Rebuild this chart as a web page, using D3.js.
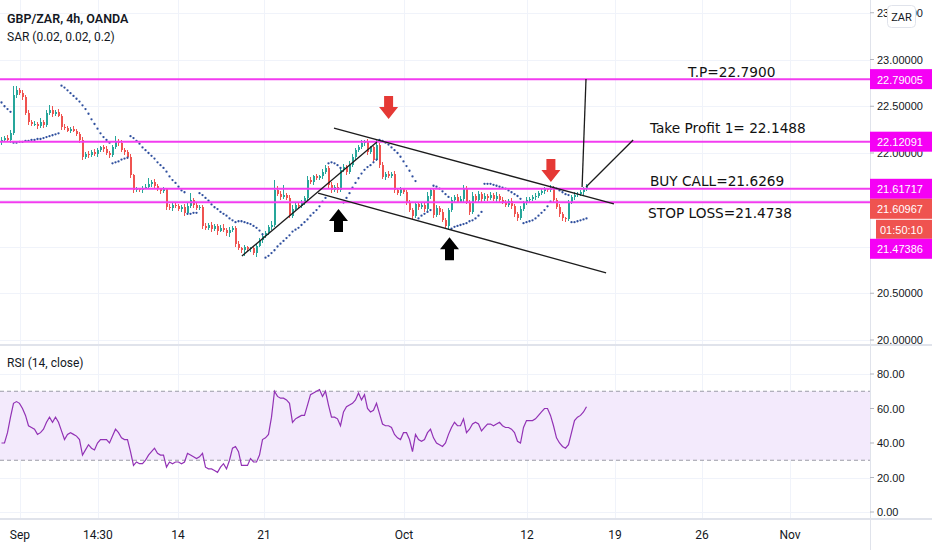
<!DOCTYPE html>
<html>
<head>
<meta charset="utf-8">
<script src="https://cdn.jsdelivr.net/npm/d3@7"></script>
<style>
  body { margin: 0; background: #fff; }
  svg { display: block; }
</style>
</head>
<body>
<svg id="chart" width="932" height="550"></svg>
<script>
(function() {

  // GBP/ZAR 4h closes (open = previous close)
  const firstOpen = 22.12;
  const closes = [
    22.14,22.16,22.14,22.21,22.62,22.67,22.64,22.60,22.43,22.33,
    22.31,22.31,22.29,22.33,22.30,22.43,22.46,22.42,22.44,22.40,
    22.28,22.27,22.24,22.26,22.24,22.20,22.14,21.96,21.99,21.98,
    22.01,21.99,22.03,22.06,22.04,22.00,21.98,22.06,22.13,22.11,
    22.03,22.01,21.96,21.76,21.60,21.61,21.60,21.63,21.64,21.67,
    21.69,21.65,21.61,21.59,21.61,21.42,21.41,21.44,21.43,21.40,
    21.42,21.36,21.43,21.50,21.44,21.41,21.42,21.22,21.20,21.23,
    21.19,21.22,21.17,21.20,21.18,21.14,21.18,21.20,21.03,20.98,
    20.96,20.99,20.97,20.98,20.93,21.01,21.07,21.11,21.14,21.21,
    21.23,21.60,21.56,21.53,21.55,21.52,21.33,21.40,21.44,21.43,
    21.47,21.52,21.71,21.69,21.75,21.73,21.75,21.80,21.84,21.66,
    21.60,21.64,21.60,21.82,21.85,21.80,21.87,21.96,22.03,22.06,
    22.11,22.12,22.01,22.06,21.93,22.09,21.87,21.74,21.78,21.75,
    21.78,21.60,21.57,21.61,21.58,21.47,21.39,21.33,21.45,21.42,
    21.44,21.40,21.54,21.60,21.34,21.41,21.37,21.28,21.22,21.39,
    21.50,21.53,21.48,21.51,21.63,21.47,21.37,21.54,21.50,21.56,
    21.51,21.54,21.52,21.55,21.51,21.54,21.50,21.48,21.44,21.49,
    21.43,21.35,21.30,21.40,21.47,21.50,21.51,21.53,21.54,21.57,
    21.59,21.61,21.60,21.63,21.50,21.42,21.35,21.30,21.29,21.47,
    21.53,21.55,21.56,21.58,21.61,21.65
  ];
  // wick lengths in hundredths above the body / below the body
  const wickHi = [
    3,2,3,4,10,5,2,3,2,3, 2,3,2,4,2,3,5,4,2,3, 2,3,2,2,3,2,2,3,2,3,
    2,3,2,2,3,4,2,3,5,2, 3,2,2,3,2,3,2,2,3,6, 2,3,2,2,3,2,3,2,3,2,
    2,3,4,7,2,3,2,2,3,2, 3,2,2,3,4,2,3,2,2,3, 2,3,2,2,3,2,2,3,3,2,
    4,11,5,3,11,2,3,4,2,3, 3,2,4,3,2,3,2,3,3,2, 3,2,4,2,3,2,4,3,2,3,
    3,2,3,2,2,5,2,3,2,3, 2,3,2,3,2,2,3,2,3,2, 3,2,4,3,2,3,2,3,2,2,
    3,2,3,3,3,2,3,4,2,3, 2,3,2,3,2,4,2,3,2,2, 3,2,2,3,2,3,2,2,3,2,
    2,3,2,3,2,2,3,2,2,3, 2,3,2,2,3,2
  ];
  const wickLo = [
    3,2,2,3,2,3,2,3,2,3, 2,2,3,2,3,2,2,3,2,2, 3,2,2,3,2,2,3,3,2,3,
    2,2,3,2,3,2,3,2,2,3, 2,3,2,3,3,2,2,3,2,2, 3,2,2,3,2,3,2,3,2,2,
    3,3,2,2,3,2,2,3,2,2, 3,2,5,2,2,3,4,2,3,2, 3,6,2,3,2,4,2,3,2,2,
    3,2,2,3,2,2,3,3,2,2, 2,3,2,2,3,2,2,3,2,3, 3,2,3,2,2,3,2,2,3,2,
    2,3,3,2,3,2,3,2,3,2, 2,3,2,3,2,3,2,4,2,3, 2,3,2,3,3,2,3,2,3,4,
    2,3,2,2,3,2,3,2,2,3, 3,2,3,2,2,3,2,3,2,2, 3,3,3,2,2,3,2,2,3,2,
    2,3,2,2,3,2,3,3,3,2, 2,3,2,2,3,2
  ];
  // Parabolic SAR (0.02, 0.02, 0.2)
  const sar = [
    22.54,22.50,22.47,22.44,
    22.11,22.11,22.12,22.12,22.13,22.13,22.14,22.14,22.15,22.15,22.16,22.17,22.18,22.19,22.20,22.21,
    22.72,22.70,22.67,22.64,22.61,22.58,22.55,22.51,22.47,22.42,22.36,22.31,22.26,22.21,22.17,22.14,22.11,
    21.89,21.90,21.91,21.93,21.94,21.95,
    22.18,22.16,22.13,22.10,22.06,22.03,22.00,21.97,21.94,21.90,21.87,21.84,21.80,21.75,21.71,21.68,21.64,21.60,
    21.58,
    21.35,21.35,21.36,21.36,
    21.57,21.55,21.52,21.49,21.45,21.42,21.40,21.37,21.35,21.33,21.30,21.28,21.26,21.27,21.27,21.26,21.25,21.24,21.22,21.20,21.17,21.13,
    20.88,20.90,20.93,20.96,21.00,21.03,21.06,21.09,21.12,21.16,21.18,21.20,21.23,21.26,21.29,21.33,21.36,21.39,21.43,21.48,21.52,
    21.89,21.90,21.89,21.87,21.84,
    21.47,21.52,21.57,21.63,21.68,21.73,21.78,21.82,21.85,21.87,21.90,21.93,
    22.14,22.13,22.11,22.09,22.06,22.03,22.00,21.96,21.91,21.86,21.81,21.75,21.70,
    21.30,21.33,21.35,21.37,21.39,
    21.65,21.64,21.62,21.59,21.56,21.53,
    21.19,21.21,21.22,21.23,21.24,21.25,21.27,21.28,21.30,21.33,21.37,
    21.67,21.67,21.67,21.66,21.65,21.64,21.63,21.62,21.60,21.58,21.56,21.54,21.51,
    21.25,21.26,21.27,21.28,21.30,21.33,21.36,21.39,21.43,21.48,
    21.63,21.62,21.60,21.58,21.56,21.55,
    21.26,21.26,21.27,21.28,21.29,21.30
  ];
  // RSI (14, close)
  const rsi = [
    40,40,46,55,63,64,63,60,56,50, 49,48,45,46,48,52,55,52,55,52,
    47,42,45,46,45,44,42,33,36,39, 37,36,40,42,42,42,40,44,48,46,
    43,42,42,35,27,29,28,28,30,33, 35,37,34,33,33,26,29,28,29,29,
    28,29,34,33,32,31,32,34,26,25, 25,24,23,26,28,25,30,37,38,35,
    27,27,27,31,29,29,33,42,43,45, 55,70,67,66,66,65,63,52,54,55,
    56,56,62,68,69,70,71,67,70,62, 55,55,54,50,58,61,62,63,65,69,
    65,68,60,58,59,63,57,51,50,50, 49,45,43,42,46,46,42,35,45,42,
    41,42,46,48,43,40,39,38,40,45, 49,52,50,50,54,46,48,51,52,51,
    47,49,51,51,50,51,52,50,49,49, 48,46,41,40,49,53,53,53,54,56,
    58,60,60,56,50,43,40,38,37,39, 46,53,55,56,58,61
  ];

  const timeTickIdx = [6.3, 32.3, 59, 87.7, 134.3, 175.3, 204.7, 233.7, 263];
  const timeLabels = ["Sep", "14:30", "14", "21", "Oct", "12", "19", "26", "Nov"];
  const priceTicks = [20, 20.5, 21, 21.5, 22, 22.5, 23, 23.5];
  const rsiTicks = [0, 20, 40, 60, 80];
  const rsiBand = [30, 70];

  const levelPrices = [22.79005, 22.12091, 21.61717, 21.47386];
  const currentPrice = 21.60967;
  const countdown = "01:50:10";

  // drawings: [bar index, price]
  const trendLines = [
    [[111, 22.267], [204.3, 21.455]],
    [[105.7, 21.572], [201.7, 20.717]],
    [[80.3, 20.898], [125.3, 22.118]],
    [[193.7, 21.636], [195, 22.791]],
    [[195, 21.636], [210.7, 22.139]],
  ];
  const arrows = [
    { i: 129.2, p: 22.364, dir: "down", color: "#e53935" },
    { i: 183.3, p: 21.69, dir: "down", color: "#e53935" },
    { i: 112.5, p: 21.40, dir: "up", color: "#000000" },
    { i: 149.5, p: 21.10, dir: "up", color: "#000000" },
  ];
  const notes = [
    { i: 229, p: 22.866, text: "T.P=22.7900" },
    { i: 216.3, p: 22.267, text: "Take Profit 1= 22.1488" },
    { i: 216.3, p: 21.70, text: "BUY CALL=21.6269" },
    { i: 215.7, p: 21.358, text: "STOP LOSS=21.4738" },
  ];

  const UP = "#26a69a", DOWN = "#ef5350";
  const MAGENTA = "#f23cf0", LABEL_MAG = "#f500f5";
  const GRID = "#f0f3fa", BORDER = "#e0e3eb", TEXT = "#131722";
  const AXIS_FONT = "'Liberation Sans', Arial, sans-serif";
  const UI_FONT = "Roboto, 'Liberation Sans', sans-serif";

  const plotRight = 870;
  const priceBottom = 344;
  const rsiTop = 346, rsiBottom = 518;

  const x = d3.scaleLinear().domain([0, 290]).range([1, 871]);
  const y = d3.scaleLinear().domain([20, 23]).range([340, 59.5]);
  const yR = d3.scaleLinear().domain([0, 80]).range([512, 374]);

  const svg = d3.select("#chart");

  const defs = svg.append("defs");
  defs.append("clipPath").attr("id", "clipPrice")
    .append("rect").attr("x", 0).attr("y", 0).attr("width", plotRight).attr("height", priceBottom);
  defs.append("clipPath").attr("id", "clipRsi")
    .append("rect").attr("x", 0).attr("y", rsiTop).attr("width", plotRight).attr("height", rsiBottom - rsiTop);

  // grid
  const grid = svg.append("g").attr("shape-rendering", "crispEdges");
  timeTickIdx.forEach(t => {
    grid.append("line")
      .attr("x1", Math.round(x(t)) + 0.5).attr("x2", Math.round(x(t)) + 0.5)
      .attr("y1", 0).attr("y2", rsiBottom)
      .attr("stroke", GRID);
  });
  priceTicks.forEach(p => {
    grid.append("line")
      .attr("x1", 0).attr("x2", plotRight)
      .attr("y1", Math.round(y(p)) + 0.5).attr("y2", Math.round(y(p)) + 0.5)
      .attr("stroke", GRID);
  });
  rsiTicks.forEach(v => {
    grid.append("line")
      .attr("x1", 0).attr("x2", plotRight)
      .attr("y1", Math.round(yR(v)) + 0.5).attr("y2", Math.round(yR(v)) + 0.5)
      .attr("stroke", GRID);
  });

  // ---- price pane
  const pane = svg.append("g").attr("clip-path", "url(#clipPrice)");

  const bars = closes.map((c, i) => {
    const o = i === 0 ? firstOpen : closes[i - 1];
    return {
      i, o, c,
      h: Math.max(o, c) + wickHi[i] / 100,
      l: Math.min(o, c) - wickLo[i] / 100,
    };
  });

  const candles = pane.append("g").attr("shape-rendering", "crispEdges");
  candles.selectAll("line").data(bars).join("line")
    .attr("x1", d => Math.round(x(d.i)) + 0.5).attr("x2", d => Math.round(x(d.i)) + 0.5)
    .attr("y1", d => y(d.h)).attr("y2", d => y(d.l))
    .attr("stroke", d => d.c >= d.o ? UP : DOWN);
  candles.selectAll("rect").data(bars).join("rect")
    .attr("x", d => Math.round(x(d.i)) - 0.5)
    .attr("width", 2)
    .attr("y", d => y(Math.max(d.o, d.c)))
    .attr("height", d => Math.max(1, y(Math.min(d.o, d.c)) - y(Math.max(d.o, d.c))))
    .attr("fill", d => d.c >= d.o ? UP : DOWN);

  pane.append("g").selectAll("circle").data(sar).join("circle")
    .attr("cx", (d, i) => x(i) + 0.5)
    .attr("cy", d => y(d))
    .attr("r", 1.15)
    .attr("fill", "#2f4f9e");

  // horizontal levels
  levelPrices.forEach(p => {
    pane.append("line")
      .attr("x1", 0).attr("x2", plotRight)
      .attr("y1", y(p)).attr("y2", y(p))
      .attr("stroke", MAGENTA).attr("stroke-width", 2);
  });

  // trend lines
  const seg = d3.line().x(d => x(d[0])).y(d => y(d[1]));
  trendLines.forEach(l => {
    pane.append("path").attr("d", seg(l))
      .attr("fill", "none").attr("stroke", "#1c1c1c").attr("stroke-width", 1.3);
  });

  // arrows
  arrows.forEach(a => {
    const cx = x(a.i), ty = y(a.p);
    const s = a.dir === "down" ? -1 : 1;   // direction from tip to tail
    const pts = [
      [cx, ty],
      [cx + 9.5, ty + s * 12],
      [cx + 4.5, ty + s * 12],
      [cx + 4.5, ty + s * 23],
      [cx - 4.5, ty + s * 23],
      [cx - 4.5, ty + s * 12],
      [cx - 9.5, ty + s * 12],
    ];
    pane.append("polygon")
      .attr("points", pts.map(p => p.join(",")).join(" "))
      .attr("fill", a.color);
  });

  // text notes
  notes.forEach(n => {
    pane.append("text")
      .attr("x", x(n.i)).attr("y", y(n.p))
      .attr("dominant-baseline", "central")
      .attr("font-family", "'DejaVu Sans', Verdana, sans-serif")
      .attr("font-size", 13.7)
      .attr("fill", "#111")
      .text(n.text);
  });

  // ---- RSI pane
  const rp = svg.append("g").attr("clip-path", "url(#clipRsi)");
  rp.append("rect")
    .attr("x", 0).attr("width", plotRight)
    .attr("y", yR(rsiBand[1])).attr("height", yR(rsiBand[0]) - yR(rsiBand[1]))
    .attr("fill", "#f3eafc");
  rsiBand.forEach(v => {
    rp.append("line")
      .attr("x1", 0).attr("x2", plotRight)
      .attr("y1", yR(v)).attr("y2", yR(v))
      .attr("stroke", "#9a9ca6").attr("stroke-dasharray", "4,3");
  });
  rp.append("path")
    .datum(rsi)
    .attr("d", d3.line().x((d, i) => x(i) + 0.5).y(d => yR(d)))
    .attr("fill", "none").attr("stroke", "#9232b5").attr("stroke-width", 1.2);

  // pane borders
  const borders = svg.append("g").attr("shape-rendering", "crispEdges");
  borders.append("line").attr("x1", 0).attr("x2", 932).attr("y1", priceBottom + 0.5).attr("y2", priceBottom + 0.5)
    .attr("stroke", BORDER).attr("stroke-width", 2);
  borders.append("line").attr("x1", 0).attr("x2", 932).attr("y1", rsiBottom + 0.5).attr("y2", rsiBottom + 0.5)
    .attr("stroke", BORDER).attr("stroke-width", 2);
  borders.append("line").attr("x1", plotRight + 0.5).attr("x2", plotRight + 0.5).attr("y1", 0).attr("y2", 550)
    .attr("stroke", BORDER);

  // ---- right axis
  // level / price labels stacked so they do not overlap
  const items = levelPrices.map(p => ({ p, h: 20, kind: "level" }))
    .concat([{ p: currentPrice, h: 40, kind: "current" }])
    .sort((a, b) => y(a.p) - y(b.p));
  let prevBottom = -Infinity;
  items.forEach(it => {
    it.top = Math.max(y(it.p) - 10, prevBottom);
    prevBottom = it.top + it.h;
  });
  const hidden = p => items.some(it => y(p) >= it.top && y(p) <= it.top + it.h);

  const axis = svg.append("g").attr("font-family", AXIS_FONT).attr("font-size", 11).attr("fill", TEXT);
  priceTicks.filter(p => !hidden(p)).forEach(p => {
    axis.append("line").attr("x1", plotRight).attr("x2", plotRight + 4)
      .attr("y1", y(p)).attr("y2", y(p)).attr("stroke", "#b2b5be");
    axis.append("text").attr("x", plotRight + 7).attr("y", y(p))
      .attr("dominant-baseline", "central").text(d3.format(".5f")(p));
  });
  rsiTicks.forEach(v => {
    axis.append("line").attr("x1", plotRight).attr("x2", plotRight + 4)
      .attr("y1", yR(v)).attr("y2", yR(v)).attr("stroke", "#b2b5be");
    axis.append("text").attr("x", plotRight + 7).attr("y", yR(v))
      .attr("dominant-baseline", "central").text(d3.format(".2f")(v));
  });

  items.forEach(it => {
    const fill = it.kind === "level" ? LABEL_MAG : "#ef5350";
    axis.append("rect").attr("x", plotRight).attr("y", it.top).attr("width", 62).attr("height", 20)
      .attr("fill", fill);
    axis.append("text").attr("x", plotRight + 7).attr("y", it.top + 10.5)
      .attr("dominant-baseline", "central").attr("fill", "#fff")
      .text(d3.format(".5f")(it.p));
    if (it.kind === "current") {
      axis.append("rect").attr("x", plotRight + 6).attr("y", it.top + 21).attr("width", 56).attr("height", 19)
        .attr("fill", "#ef5350");
      axis.append("text").attr("x", plotRight + 10).attr("y", it.top + 31)
        .attr("dominant-baseline", "central").attr("fill", "#fff")
        .text(countdown);
    }
  });

  // currency button
  svg.append("rect").attr("x", 887.5).attr("y", 5.5).attr("width", 28).attr("height", 22).attr("rx", 4)
    .attr("fill", "#fff").attr("stroke", "#e0e3eb");
  svg.append("text").attr("x", 901.5).attr("y", 17).attr("text-anchor", "middle")
    .attr("dominant-baseline", "central")
    .attr("font-family", UI_FONT).attr("font-size", 11).attr("fill", TEXT).text("ZAR");

  // ---- time axis
  const tAxis = svg.append("g").attr("font-family", UI_FONT).attr("font-size", 12).attr("fill", TEXT);
  timeTickIdx.forEach((t, k) => {
    tAxis.append("text").attr("x", x(t)).attr("y", 535)
      .attr("text-anchor", "middle").attr("dominant-baseline", "central")
      .text(timeLabels[k]);
  });

  // ---- legends
  const legend = svg.append("g").attr("font-family", UI_FONT).attr("fill", TEXT);
  legend.append("text").attr("x", 7).attr("y", 18).attr("dominant-baseline", "central")
    .attr("font-size", 12.5).attr("font-weight", 600).text("GBP/ZAR, 4h, OANDA");
  legend.append("text").attr("x", 7).attr("y", 37).attr("dominant-baseline", "central")
    .attr("font-size", 12).text("SAR (0.02, 0.02, 0.2)");
  legend.append("text").attr("x", 7).attr("y", 363).attr("dominant-baseline", "central")
    .attr("font-size", 12).text("RSI (14, close)");

})();
</script>
</body>
</html>
